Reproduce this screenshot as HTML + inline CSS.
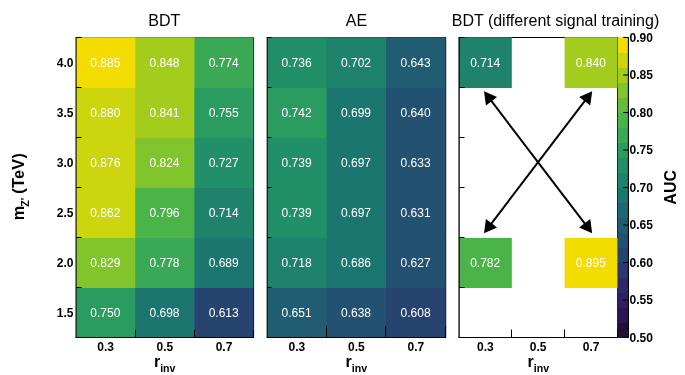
<!DOCTYPE html>
<html><head><meta charset="utf-8"><title>AUC heatmaps</title>
<style>html,body{margin:0;padding:0;background:#fff}body{width:685px;height:375px;overflow:hidden;font-family:"Liberation Sans",sans-serif}</style>
</head><body>
<svg width="685" height="375" viewBox="0 0 685 375" style="display:block;will-change:transform;font-family:'Liberation Sans',sans-serif">
<rect width="685" height="375" fill="#fff"/>
<g fill="none" stroke="#000" stroke-width="1">
<path d="M76.05 37.5H253.6V337.5"/>
</g>
<rect x="76.05" y="37.20" width="60.20" height="50.80" fill="#f3dd01"/>
<rect x="135.25" y="37.20" width="60.15" height="50.80" fill="#a3cc1c"/>
<rect x="194.40" y="37.20" width="59.20" height="50.80" fill="#3aa854"/>
<rect x="76.05" y="88.00" width="60.20" height="50.00" fill="#cdd50e"/>
<rect x="135.25" y="88.00" width="60.15" height="50.00" fill="#a3cc1c"/>
<rect x="194.40" y="88.00" width="59.20" height="50.00" fill="#2a9c60"/>
<rect x="76.05" y="138.00" width="60.20" height="50.00" fill="#cdd50e"/>
<rect x="135.25" y="138.00" width="60.15" height="50.00" fill="#81c42b"/>
<rect x="194.40" y="138.00" width="59.20" height="50.00" fill="#218f67"/>
<rect x="76.05" y="188.00" width="60.20" height="50.00" fill="#cdd50e"/>
<rect x="135.25" y="188.00" width="60.15" height="50.00" fill="#4ab448"/>
<rect x="194.40" y="188.00" width="59.20" height="50.00" fill="#1f836c"/>
<rect x="76.05" y="238.00" width="60.20" height="50.00" fill="#81c42b"/>
<rect x="135.25" y="238.00" width="60.15" height="50.00" fill="#3aa854"/>
<rect x="194.40" y="238.00" width="59.20" height="50.00" fill="#1c7670"/>
<rect x="76.05" y="288.00" width="60.20" height="50.00" fill="#2a9c60"/>
<rect x="135.25" y="288.00" width="60.15" height="50.00" fill="#1c7670"/>
<rect x="194.40" y="288.00" width="59.20" height="50.00" fill="#274471"/>
<path d="M253.5 37.5V337.5" stroke="#000" stroke-opacity="0.28" fill="none"/>
<g fill="none" stroke="#000" stroke-width="1.1">
<path d="M76.05 37.0V338.0" stroke-width="1.1"/>
<path d="M75.55 337.5H254.0"/>
<path d="M76.05 37.50h5.6" stroke-width="1"/>
<path d="M76.05 87.50h5.6" stroke-width="1"/>
<path d="M76.05 137.50h5.6" stroke-width="1"/>
<path d="M76.05 187.50h5.6" stroke-width="1"/>
<path d="M76.05 237.50h5.6" stroke-width="1"/>
<path d="M76.05 287.50h5.6" stroke-width="1"/>
<path d="M135.50 337.5v-7.8" stroke-width="1"/>
<path d="M194.50 337.5v-7.8" stroke-width="1"/>
<path d="M253.50 337.5v-7.8" stroke-width="1"/>
</g>
<g fill="#fff" font-size="12" text-anchor="middle">
<text x="105.35" y="66.60">0.885</text>
<text x="164.52" y="66.60">0.848</text>
<text x="223.70" y="66.60">0.774</text>
<text x="105.35" y="116.60">0.880</text>
<text x="164.52" y="116.60">0.841</text>
<text x="223.70" y="116.60">0.755</text>
<text x="105.35" y="166.60">0.876</text>
<text x="164.52" y="166.60">0.824</text>
<text x="223.70" y="166.60">0.727</text>
<text x="105.35" y="216.60">0.862</text>
<text x="164.52" y="216.60">0.796</text>
<text x="223.70" y="216.60">0.714</text>
<text x="105.35" y="266.60">0.829</text>
<text x="164.52" y="266.60">0.778</text>
<text x="223.70" y="266.60">0.689</text>
<text x="105.35" y="316.60">0.750</text>
<text x="164.52" y="316.60">0.698</text>
<text x="223.70" y="316.60">0.613</text>
</g>
<g fill="#000" font-size="12" font-weight="bold" text-anchor="middle">
<text x="105.65" y="350.8">0.3</text>
<text x="164.82" y="350.8">0.5</text>
<text x="224.00" y="350.8">0.7</text>
</g>
<text x="153.92" y="366.8" font-size="16" font-weight="bold" fill="#000">r<tspan font-size="10.6" dy="5">inv</tspan></text>
<g fill="none" stroke="#000" stroke-width="1">
<path d="M267.2 37.5H445.7V337.5"/>
</g>
<rect x="267.20" y="37.20" width="60.40" height="50.80" fill="#218f67"/>
<rect x="326.60" y="37.20" width="60.40" height="50.80" fill="#1f836c"/>
<rect x="386.00" y="37.20" width="59.70" height="50.80" fill="#205d72"/>
<rect x="267.20" y="88.00" width="60.40" height="50.00" fill="#2a9c60"/>
<rect x="326.60" y="88.00" width="60.40" height="50.00" fill="#1c7670"/>
<rect x="386.00" y="88.00" width="59.70" height="50.00" fill="#235172"/>
<rect x="267.20" y="138.00" width="60.40" height="50.00" fill="#218f67"/>
<rect x="326.60" y="138.00" width="60.40" height="50.00" fill="#1c7670"/>
<rect x="386.00" y="138.00" width="59.70" height="50.00" fill="#235172"/>
<rect x="267.20" y="188.00" width="60.40" height="50.00" fill="#218f67"/>
<rect x="326.60" y="188.00" width="60.40" height="50.00" fill="#1c7670"/>
<rect x="386.00" y="188.00" width="59.70" height="50.00" fill="#235172"/>
<rect x="267.20" y="238.00" width="60.40" height="50.00" fill="#1f836c"/>
<rect x="326.60" y="238.00" width="60.40" height="50.00" fill="#1c7670"/>
<rect x="386.00" y="238.00" width="59.70" height="50.00" fill="#235172"/>
<rect x="267.20" y="288.00" width="60.40" height="50.00" fill="#205d72"/>
<rect x="326.60" y="288.00" width="60.40" height="50.00" fill="#235172"/>
<rect x="386.00" y="288.00" width="59.70" height="50.00" fill="#274471"/>
<path d="M445.59999999999997 37.5V337.5" stroke="#000" stroke-opacity="0.28" fill="none"/>
<g fill="none" stroke="#000" stroke-width="1.1">
<path d="M267.2 37.0V338.0" stroke-width="1.1"/>
<path d="M266.7 337.5H446.09999999999997"/>
<path d="M267.2 37.50h4.4" stroke-width="1"/>
<path d="M267.2 87.50h4.4" stroke-width="1"/>
<path d="M267.2 137.50h4.4" stroke-width="1"/>
<path d="M267.2 187.50h4.4" stroke-width="1"/>
<path d="M267.2 237.50h4.4" stroke-width="1"/>
<path d="M267.2 287.50h4.4" stroke-width="1"/>
<path d="M326.50 337.5v-11.5" stroke-width="1"/>
<path d="M385.60 337.5v-11.5" stroke-width="1"/>
<path d="M445.40 337.5v-11.5" stroke-width="1"/>
</g>
<g fill="#fff" font-size="12" text-anchor="middle">
<text x="296.60" y="66.60">0.736</text>
<text x="356.00" y="66.60">0.702</text>
<text x="415.55" y="66.60">0.643</text>
<text x="296.60" y="116.60">0.742</text>
<text x="356.00" y="116.60">0.699</text>
<text x="415.55" y="116.60">0.640</text>
<text x="296.60" y="166.60">0.739</text>
<text x="356.00" y="166.60">0.697</text>
<text x="415.55" y="166.60">0.633</text>
<text x="296.60" y="216.60">0.739</text>
<text x="356.00" y="216.60">0.697</text>
<text x="415.55" y="216.60">0.631</text>
<text x="296.60" y="266.60">0.718</text>
<text x="356.00" y="266.60">0.686</text>
<text x="415.55" y="266.60">0.627</text>
<text x="296.60" y="316.60">0.651</text>
<text x="356.00" y="316.60">0.638</text>
<text x="415.55" y="316.60">0.608</text>
</g>
<g fill="#000" font-size="12" font-weight="bold" text-anchor="middle">
<text x="296.90" y="350.8">0.3</text>
<text x="356.30" y="350.8">0.5</text>
<text x="415.85" y="350.8">0.7</text>
</g>
<text x="345.55" y="366.8" font-size="16" font-weight="bold" fill="#000">r<tspan font-size="10.6" dy="5">inv</tspan></text>
<g fill="none" stroke="#000" stroke-width="1">
<path d="M459.1 37.5H617.7V337.5"/>
</g>
<rect x="459.10" y="37.20" width="52.70" height="50.80" fill="#1f836c"/>
<rect x="564.60" y="37.20" width="53.10" height="50.80" fill="#a3cc1c"/>
<rect x="459.10" y="238.00" width="52.70" height="50.00" fill="#4ab448"/>
<rect x="564.60" y="238.00" width="53.10" height="50.00" fill="#f3dd01"/>
<path d="M617.6 37.5V337.5" stroke="#000" stroke-opacity="0.28" fill="none"/>
<g fill="none" stroke="#000" stroke-width="1.1">
<path d="M459.1 37.0V338.0" stroke-width="1.3"/>
<path d="M458.6 337.5H618.1"/>
<path d="M459.1 37.50h5.4" stroke-width="1"/>
<path d="M459.1 87.50h5.4" stroke-width="1"/>
<path d="M459.1 137.50h5.4" stroke-width="1"/>
<path d="M459.1 187.50h5.4" stroke-width="1"/>
<path d="M459.1 237.50h5.4" stroke-width="1"/>
<path d="M459.1 287.50h5.4" stroke-width="1"/>
<path d="M511.50 337.5v-8.0" stroke-width="1"/>
<path d="M564.50 337.5v-8.0" stroke-width="1"/>
<path d="M617.50 337.5v-8.0" stroke-width="1"/>
</g>
<g fill="#fff" font-size="12" text-anchor="middle">
<text x="485.15" y="66.60">0.714</text>
<text x="590.85" y="66.60">0.840</text>
<text x="485.15" y="266.60">0.782</text>
<text x="590.85" y="266.60">0.895</text>
</g>
<g fill="#000" font-size="12" font-weight="bold" text-anchor="middle">
<text x="485.45" y="350.8">0.3</text>
<text x="538.20" y="350.8">0.5</text>
<text x="591.15" y="350.8">0.7</text>
</g>
<text x="527.50" y="366.8" font-size="16" font-weight="bold" fill="#000">r<tspan font-size="10.6" dy="5">inv</tspan></text>
<g fill="#000" font-size="12" font-weight="bold" text-anchor="end">
<text x="73.4" y="66.60">4.0</text>
<text x="73.4" y="116.60">3.5</text>
<text x="73.4" y="166.60">3.0</text>
<text x="73.4" y="216.60">2.5</text>
<text x="73.4" y="266.60">2.0</text>
<text x="73.4" y="316.60">1.5</text>
</g>
<text transform="translate(24.2 220.3) rotate(-90)" font-size="16.3" font-weight="bold" fill="#000">m<tspan font-size="10.6" dy="5" dx="-0.9">Z'</tspan><tspan dy="-5" dx="-0.7" letter-spacing="0.25"> (TeV)</tspan></text>
<g fill="#000" font-size="16">
<text x="164.3" y="25.7" text-anchor="middle">BDT</text>
<text x="356.4" y="25.7" text-anchor="middle">AE</text>
<text x="555.5" y="25.7" text-anchor="middle">BDT (different signal training)</text>
</g>
<rect x="618.1" y="37.20" width="10.299999999999955" height="300.80" fill="#f3dd01"/>
<rect x="618.1" y="53.00" width="10.299999999999955" height="285.00" fill="#cdd50e"/>
<rect x="618.1" y="68.00" width="10.299999999999955" height="270.00" fill="#a3cc1c"/>
<rect x="618.1" y="83.00" width="10.299999999999955" height="255.00" fill="#81c42b"/>
<rect x="618.1" y="98.00" width="10.299999999999955" height="240.00" fill="#64bc3a"/>
<rect x="618.1" y="113.00" width="10.299999999999955" height="225.00" fill="#4ab448"/>
<rect x="618.1" y="128.00" width="10.299999999999955" height="210.00" fill="#3aa854"/>
<rect x="618.1" y="143.00" width="10.299999999999955" height="195.00" fill="#2a9c60"/>
<rect x="618.1" y="158.00" width="10.299999999999955" height="180.00" fill="#218f67"/>
<rect x="618.1" y="173.00" width="10.299999999999955" height="165.00" fill="#1f836c"/>
<rect x="618.1" y="188.00" width="10.299999999999955" height="150.00" fill="#1c7670"/>
<rect x="618.1" y="203.00" width="10.299999999999955" height="135.00" fill="#1e6971"/>
<rect x="618.1" y="218.00" width="10.299999999999955" height="120.00" fill="#205d72"/>
<rect x="618.1" y="233.00" width="10.299999999999955" height="105.00" fill="#235172"/>
<rect x="618.1" y="248.00" width="10.299999999999955" height="90.00" fill="#274471"/>
<rect x="618.1" y="263.00" width="10.299999999999955" height="75.00" fill="#2b3770"/>
<rect x="618.1" y="278.00" width="10.299999999999955" height="60.00" fill="#2e2a6a"/>
<rect x="618.1" y="293.00" width="10.299999999999955" height="45.00" fill="#311f64"/>
<rect x="618.1" y="308.00" width="10.299999999999955" height="30.00" fill="#2e1553"/>
<rect x="618.1" y="323.00" width="10.299999999999955" height="15.00" fill="#240f38"/>
<g fill="none" stroke="#000" stroke-width="1.1">
<path d="M628.4 37.0V338.0"/>
<path d="M628.4 37.50h-5.2"/>
<path d="M628.4 75.00h-5.2"/>
<path d="M628.4 112.50h-5.2"/>
<path d="M628.4 150.00h-5.2"/>
<path d="M628.4 187.50h-5.2"/>
<path d="M628.4 225.00h-5.2"/>
<path d="M628.4 262.50h-5.2"/>
<path d="M628.4 300.00h-5.2"/>
<path d="M628.4 337.50h-5.2"/>
</g>
<g fill="#000" font-size="12" font-weight="bold">
<text x="629.6" y="41.80">0.90</text>
<text x="629.6" y="79.30">0.85</text>
<text x="629.6" y="116.80">0.80</text>
<text x="629.6" y="154.30">0.75</text>
<text x="629.6" y="191.80">0.70</text>
<text x="629.6" y="229.30">0.65</text>
<text x="629.6" y="266.80">0.60</text>
<text x="629.6" y="304.30">0.55</text>
<text x="629.6" y="341.80">0.50</text>
</g>
<text transform="translate(676 187.3) rotate(-90)" font-size="16" font-weight="bold" fill="#000" text-anchor="middle">AUC</text>
<path d="M490.01 99.19L586.19 225.31" stroke="#000" stroke-width="2" fill="none"/>
<path d="M484.00 91.30L485.95 105.40L497.09 96.92Z" fill="#000"/>
<path d="M592.20 233.20L579.11 227.58L590.25 219.10Z" fill="#000"/>
<path d="M586.19 99.19L490.01 225.31" stroke="#000" stroke-width="2" fill="none"/>
<path d="M592.20 91.30L579.11 96.92L590.25 105.40Z" fill="#000"/>
<path d="M484.00 233.20L485.95 219.10L497.09 227.58Z" fill="#000"/>
</svg>
</body></html>
